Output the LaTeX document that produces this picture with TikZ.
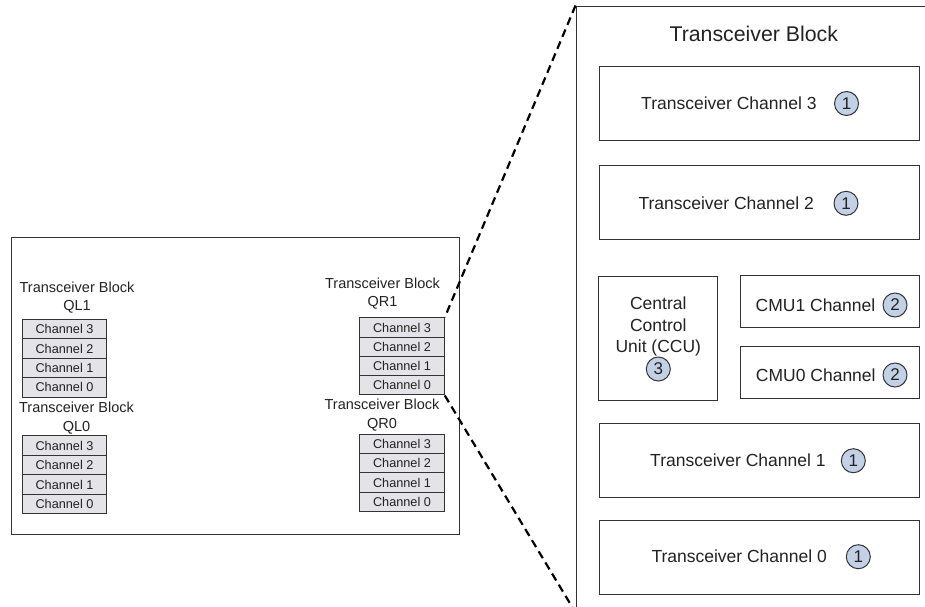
\documentclass[tikz,border=0pt]{standalone}
\usepackage{fontspec}
\setmainfont{Liberation Sans}
\definecolor{ln}{HTML}{333333}
\definecolor{txt}{HTML}{222222}
\definecolor{cellgray}{HTML}{E4E4E8}
\definecolor{badge}{HTML}{C3D1E6}
\tikzset{
  cell/.style={draw=ln, fill=cellgray, line width=1pt, minimum width=84.5pt, minimum height=19.4pt, inner sep=0pt, text=txt, font=\fontsize{12.7}{14}\selectfont},
  blabel/.style={align=center, inner sep=0pt, text=txt, font=\fontsize{14.5}{18.5}\selectfont},
  box/.style={draw=ln, line width=1pt, inner sep=0pt},
  rtext/.style={inner sep=0pt, text=txt, font=\fontsize{17.5}{21.8}\selectfont},
  num/.style={circle, draw=ln, fill=badge, line width=1pt, minimum size=24pt, inner sep=0pt, text=txt, font=\fontsize{17}{17}\selectfont},
  zoomline/.style={line width=2.2pt, dash pattern=on 8pt off 5pt, draw=black}
}
\begin{document}
\begin{tikzpicture}[x=1pt, y=-1pt]
\useasboundingbox (0,0) rectangle (925,606);
\clip (0,0) rectangle (925,606);

% left overview chip
\node[box, minimum width=448pt, minimum height=297pt] (chip) at (235,385.5) {};

\node[blabel] (lql1) at (77,297.5) {Transceiver Block\\QL1};
\foreach \n/\y in {3/329.2, 2/348.6, 1/368.0, 0/387.4}
  \node[cell] (ql1c\n) at (64.5,\y) {Channel \n};

\node[blabel] (lql0) at (76.5,418) {Transceiver Block\\QL0};
\foreach \n/\y in {3/445.45, 2/464.95, 1/484.45, 0/503.95}
  \node[cell] (ql0c\n) at (64.5,\y) {Channel \n};

\node[blabel] (lqr1) at (382.5,293.5) {Transceiver Block\\QR1};
\foreach \n/\y in {3/327.6, 2/346.8, 1/366.0, 0/385.2}
  \node[cell] (qr1c\n) at (402,\y) {Channel \n};

\node[blabel] (lqr0) at (382,415) {Transceiver Block\\QR0};
\foreach \n/\y in {3/443.7, 2/463.1, 1/482.5, 0/501.9}
  \node[cell] (qr0c\n) at (402,\y) {Channel \n};

% enlarged transceiver block
\node[box, minimum width=359pt, minimum height=606pt] (tb) at (755.5,309) {};
\node[inner sep=0pt, text=txt, font=\fontsize{21.3}{26}\selectfont] (title) at (753.8,34) {Transceiver Block};

\node[box, minimum width=320.5pt, minimum height=74pt] (ch3) at (759.25,103) {};
\node[rtext] (ch3t) at (728.9,103.5) {Transceiver Channel 3};
\node[num] (ch3n) at (846.5,103.5) {1};

\node[box, minimum width=320.5pt, minimum height=74.3pt] (ch2) at (759.25,202.15) {};
\node[rtext] (ch2t) at (726.2,203.3) {Transceiver Channel 2};
\node[num] (ch2n) at (846,203.3) {1};

\node[box, minimum width=119pt, minimum height=124pt] (ccu) at (657.8,338.7) {};
\node[rtext, align=center] (ccut) at (658.3,326.6) {Central\\Control\\Unit (CCU)};
\node[num] (ccun) at (658.3,369) {3};

\node[box, minimum width=178.8pt, minimum height=52pt] (cmu1) at (830.1,301.7) {};
\node[rtext] (cmu1t) at (815.5,305) {CMU1 Channel};
\node[num] (cmu1n) at (895,305) {2};

\node[box, minimum width=178.8pt, minimum height=51.6pt] (cmu0) at (830.1,372.5) {};
\node[rtext] (cmu0t) at (815.8,375) {CMU0 Channel};
\node[num] (cmu0n) at (895,375) {2};

\node[box, minimum width=320.5pt, minimum height=74pt] (ch1) at (759.25,460.3) {};
\node[rtext] (ch1t) at (737.9,460.7) {Transceiver Channel 1};
\node[num] (ch1n) at (853.3,460.7) {1};

\node[box, minimum width=320.5pt, minimum height=73.7pt] (ch0) at (759.25,557.15) {};
\node[rtext] (ch0t) at (739.2,556.7) {Transceiver Channel 0};
\node[num] (ch0n) at (858.3,556.7) {1};

% zoom lines
\draw[zoomline] (tb.north west) -- (qr1c3.north east);
\draw[zoomline] (qr1c0.south east) -- (tb.south west);
\end{tikzpicture}
\end{document}
